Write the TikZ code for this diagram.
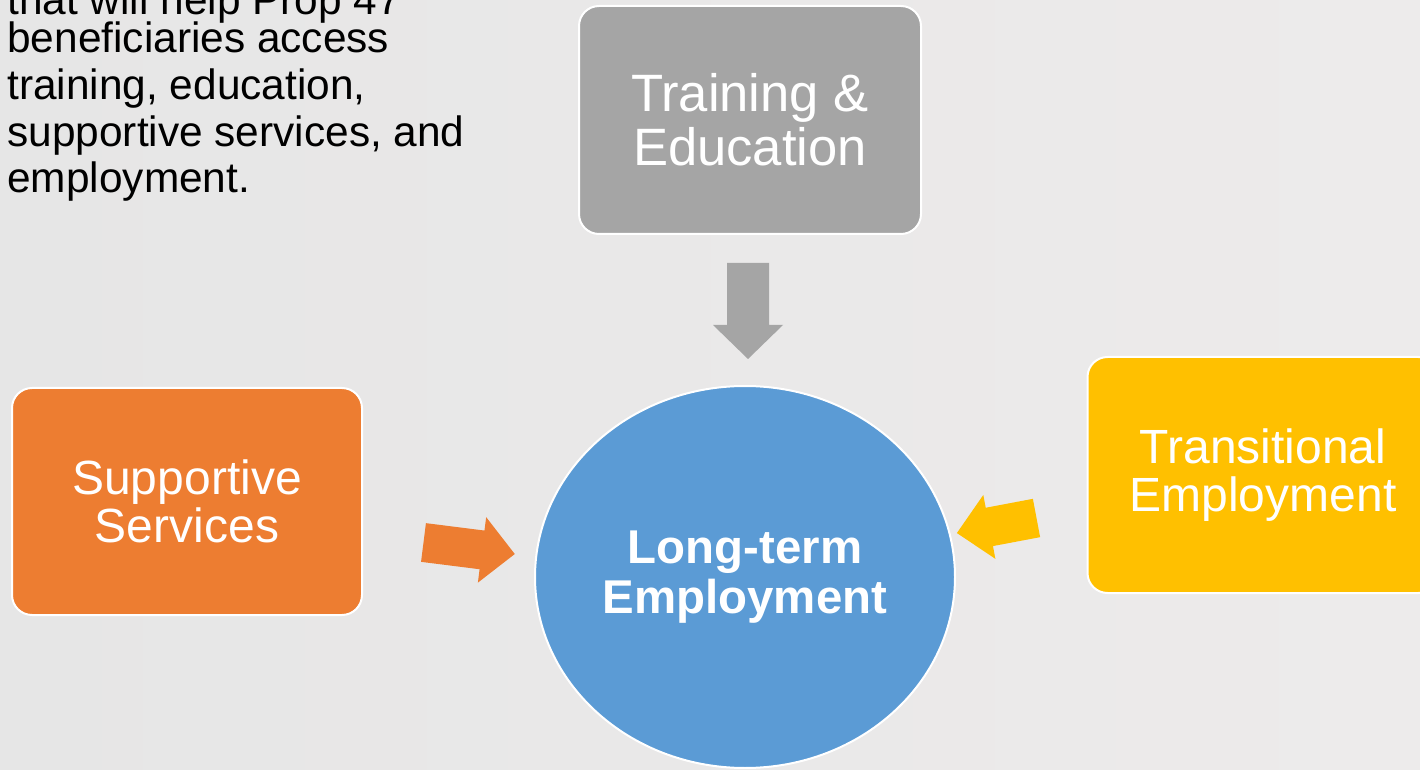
\documentclass[tikz,border=0pt]{standalone}
\usepackage{fontspec}
\setmainfont{Liberation Sans}
\usetikzlibrary{shapes.geometric}
\definecolor{bgleft}{RGB}{230,230,230}
\definecolor{bgright}{RGB}{237,235,235}
\definecolor{trgray}{RGB}{165,165,165}
\definecolor{suorange}{RGB}{237,125,49}
\definecolor{tryellow}{RGB}{255,192,0}
\definecolor{ltblue}{RGB}{91,155,213}
% block arrow: colour, tail x, tail y, angle, length, shaft, head width, head length
\newcommand{\blockarrow}[8]{%
  \fill[#1, shift={(#2,#3)}, rotate=#4]
    (0,{#6/2}) -- ({#5-#8},{#6/2}) -- ({#5-#8},{#7/2}) -- (#5,0)
    -- ({#5-#8},{-#7/2}) -- ({#5-#8},{-#6/2}) -- (0,{-#6/2}) -- cycle;}

\begin{document}
\begin{tikzpicture}[x=0.5pt,y=-0.5pt,
  box/.style={rectangle, rounded corners=10pt, draw=white, line width=1pt,
    text=white, align=center, inner sep=0pt,
    font=\fontsize{24}{24}\selectfont},
  hub/.style={ellipse, draw=white, line width=1pt, fill=ltblue, text=white,
    align=center, inner sep=0pt, minimum width=210pt, minimum height=191pt,
    font=\fontsize{23.7}{25}\selectfont\bfseries}]
  \path[use as bounding box] (0,0) rectangle (1420,770);
  \fill[left color=bgleft, right color=bgright] (0,0) rectangle (1420,770);
  \clip (0,0) rectangle (1420,770);

  % intro text
  \node (intro) [anchor=base west, align=left, inner sep=0pt,
    font=\fontsize{21.2}{23.35}\selectfont] at (7,193)
    {that will help Prop 47\\[-4pt]
     beneficiaries access\\
     training, education,\\
     supportive services, and\\
     employment.};

  % boxes and hub
  \node (train) [box, fill=trgray, minimum width=171pt, minimum height=114pt,
    font=\fontsize{26.3}{27}\selectfont] at (750,120) {Training \&\\Education};
  \node (support) [box, fill=suorange, minimum width=175pt, minimum height=113.5pt]
    at (187,501.5) {Supportive\\Services};
  \node (transit) [box, fill=tryellow, minimum width=175.5pt, minimum height=118pt]
    at (1263,475) {Transitional\\Employment};
  \node (ltemp) [hub] at (745,577) {Long-term\\Employment};

  % arrows into the hub
  \blockarrow{trgray}{748}{263}{-90}{96}{42}{70}{34}
  \blockarrow{suorange}{423.5}{542.5}{-7.2}{92}{39}{66}{33}
  \blockarrow{tryellow}{1036.5}{518}{-169.3}{81}{39}{65}{33}
\end{tikzpicture}
\end{document}
